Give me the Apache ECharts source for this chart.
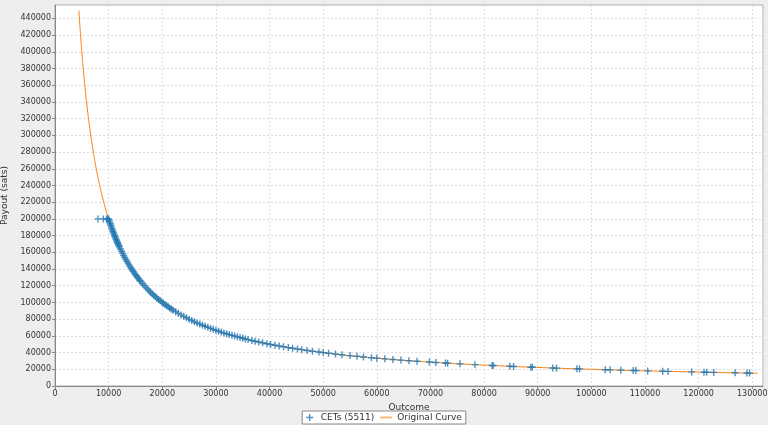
<!DOCTYPE html><html><head><meta charset="utf-8"><script src="https://cdn.jsdelivr.net/npm/echarts@6/dist/echarts.min.js"></script>
<style>html,body{margin:0;background:#eeeeee}#c{width:768px;height:425px}</style></head><body><div id="c"></div><script>
const cetX=[8000,9000,9600,9800,
10000,10100,10200,10300,10400,10500,10600,10700,10800,10900,11000,11100,11200,11300,11400,11500,11600,11700,11800,11900,12000,
12200,12400,12600,12800,13000,13200,13400,13600,13800,14000,14200,14400,14600,14800,15000,15200,15400,15600,15800,16000,
16300,16600,16900,17200,17500,17800,18100,18400,18700,19000,19300,19600,19900,20200,20500,20800,21100,21400,21700,22000,
22500,23000,23500,24000,24500,25000,25500,26000,26500,27000,27500,28000,28500,29000,29500,30000,
30500,31000,31500,32000,32500,33000,33500,34000,34500,35000,35500,36000,36700,37300,38000,38700,39500,40200,41000,41800,42600,43500,44300,45200,46000,47000,48000,49200,50000,51000,52300,53500,55000,56300,57500,59000,60000,61500,63000,64500,66000,67500,69800,71000,72800,73200,75500,78300,81500,81700,84800,85500,88700,89000,92800,93500,97300,97800,102600,103500,105500,107800,108300,110500,113300,114300,118700,121000,121500,122800,126800,129000,129500];
const cetY=[200000,200000,200000,200000,
200000,198020,196078,194175,192308,190476,188679,186916,185185,183486,181818,180180,178571,176991,175439,173913,172414,170940,169492,168067,166667,
163934,161290,158730,156250,153846,151515,149254,147059,144928,142857,140845,138889,136986,135135,133333,131579,129870,128205,126582,125000,
122699,120482,118343,116279,114286,112360,110497,108696,106952,105263,103627,102041,100503,99010,97561,96154,94787,93458,92166,90909,
88889,86957,85106,83333,81633,80000,78431,76923,75472,74074,72727,71429,70175,68966,67797,66667,
65574,64516,63492,62500,61538,60606,59701,58824,57971,57143,56338,55556,54496,53619,52632,51680,50633,49751,48780,47847,46948,45977,45147,44248,43478,42553,41667,40650,40000,39216,38241,37383,36364,35524,34783,33898,33333,32520,31746,31008,30303,29630,28653,28169,27473,27322,26490,25543,24540,24480,23585,23392,22548,22472,21552,21390,20555,20450,19493,19324,18957,18553,18467,18100,17652,17498,16849,16529,16461,16287,15773,15504,15444];
const curveX=[4450,4600,4800,5000,5300,5600,6000,6500,7000,7500,8000,8500,9000,9500,10000,11000,12000,13000,14000,15000,17000,20000,23000,26000,30000,35000,40000,50000,60000,70000,80000,90000,100000,110000,120000,131000];
const curveY=[449438,434783,416667,400000,377358,357143,333333,307692,285714,266667,250000,235294,222222,210526,200000,181818,166667,153846,142857,133333,117647,100000,86957,76923,66667,57143,50000,40000,33333,28571,25000,22222,20000,18182,16667,15267];
const ch=echarts.init(document.getElementById('c'));
const lab={fontSize:8,color:'#333',fontFamily:'DejaVu Sans',formatter:v=>String(v)};
const grid={show:true,lineStyle:{color:'#dddddd',type:[2,2]}};
const plus='path://M4 0h2v4h4v2h-4v4h-2v-4h-4v-2h4z';
ch.setOption({animation:false,backgroundColor:'#eeeeee',
grid:{left:55,right:5,top:5,bottom:39,containLabel:false,outerBoundsMode:'none',show:true,backgroundColor:'#fff',borderColor:'#aaa'},
xAxis:{type:'value',min:0,max:132000,interval:10000,name:'Outcome',nameLocation:'middle',nameGap:13,nameTextStyle:{fontSize:9,color:'#333',fontFamily:'DejaVu Sans'},axisLabel:Object.assign({showMaxLabel:false,margin:4},lab),axisLine:{lineStyle:{color:'#888'}},axisTick:{show:true,length:3,lineStyle:{color:'#888'}},splitLine:grid},
yAxis:{type:'value',min:0,max:456000,interval:20000,name:'Payout (sats)',nameLocation:'middle',nameGap:40,nameTextStyle:{fontSize:9,color:'#333',fontFamily:'DejaVu Sans'},axisLabel:Object.assign({showMaxLabel:false,margin:4},lab),axisLine:{show:true,lineStyle:{color:'#888'}},axisTick:{show:true,length:3,lineStyle:{color:'#888'}},splitLine:grid},
legend:{bottom:1,left:'center',itemWidth:12,itemHeight:7,itemGap:6,padding:[2,4],borderColor:'#888',borderWidth:1,backgroundColor:'#fff',borderRadius:0,textStyle:{fontSize:9,color:'#333',fontFamily:'DejaVu Sans'},
data:[{name:'CETs (5511)',icon:plus},{name:'Original Curve',icon:'path://M0 4h12v2h-12z',itemStyle:{color:'#ffbb78'}}]},
series:[
{name:'Original Curve',type:'line',smooth:true,showSymbol:false,data:curveX.map((x,i)=>[x,curveY[i]]),lineStyle:{color:'#ff7f0e',width:1},itemStyle:{color:'#ff7f0e'},z:1},
{name:'CETs (5511)',type:'scatter',symbol:plus,symbolSize:7,data:cetX.map((x,i)=>[x,cetY[i]]),itemStyle:{color:'#1f77b4'},z:2}
]});
</script></body></html>
